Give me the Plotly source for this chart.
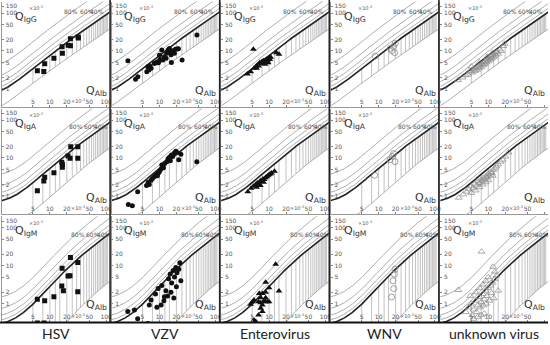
import numpy as np
import plotly.graph_objects as go

W, H = 550, 345

viruses = ["HSV", "VZV", "Enterovirus", "WNV", "unknown virus"]
ig_names = ["IgG", "IgA", "IgM"]

# Reiber hyperbolic reference constants (Q in units of 10^-3)
upper_a = [0.93, 0.77, 0.67]
upper_b2 = [6.0, 23.0, 120.0]
upper_c = [1.7, 3.1, 7.1]
lower_a = [0.33, 0.17, 0.04]
lower_b2 = [2.0, 74.0, 442.0]
lower_c = [0.3, 1.3, 0.82]
fractions = [0.2, 0.4, 0.6, 0.8]
hatch_x = [5, 7.5, 10, 12.5, 15, 20, 25, 30, 35, 40, 45, 50, 55, 60, 65, 70,
           75, 80, 85, 90, 95, 100, 105]

x_ticks = [2, 5, 10, 20, 50, 100]
y_ticks = [1, 2, 5, 10, 20, 50, 100, 150]

# ---- data: Q_Alb / Q_Ig (x10^-3) ----
hsv_igg_alb = [6.0, 7.8, 8.1, 11.8, 16.5, 16.7, 21.1, 23.2, 23.2, 31.7, 32.1]
hsv_igg_q = [3.0, 2.9, 4.6, 6.4, 13.0, 8.7, 14.1, 13.8, 21.1, 23.3, 22.0]
hsv_iga_alb = [6.0, 7.8, 8.1, 11.8, 16.3, 16.7, 16.7, 21.0, 22.9, 23.5, 31.3, 31.3]
hsv_iga_q = [1.38, 2.48, 3.1, 4.1, 7.7, 6.7, 5.7, 11.3, 9.8, 19.9, 19.9, 9.8]
hsv_igm_alb = [6.0, 8.1, 11.8, 16.5, 16.3, 17.4, 21.0, 22.8, 23.2, 31.3, 31.3, 6.0, 7.9]
hsv_igm_q = [1.30, 1.20, 1.53, 8.5, 2.92, 2.20, 5.36, 5.4, 16.3, 12.2, 2.07, 0.31, 0.31]

vzv_igg_alb = [2.75, 3.76, 4.13, 5.96, 6.2, 6.5, 7.1, 6.7, 8.1, 8.7, 9.1, 9.6, 10.0, 10.3,
               10.0, 11.0, 12.2, 13.5, 14.2, 15.0, 15.4, 16.1, 16.3, 17.2, 18.4, 19.2,
               20.5, 21.7, 25.2, 46.3, 11.5, 13.1]
vzv_igg_q = [5.5, 1.79, 2.11, 2.86, 3.87, 3.16, 3.5, 4.1, 4.7, 4.9, 5.1, 4.9, 5.5, 6.0,
             7.7, 10.6, 7.1, 8.7, 10.6, 11.7, 9.2, 7.9, 5.0, 10.2, 8.7, 11.1,
             11.3, 11.5, 5.8, 26.4, 5.8, 6.4]
vzv_iga_alb = [2.8, 3.3, 4.1, 5.9, 6.3, 6.6, 7.1, 7.5, 8.1, 8.7, 9.2, 9.6, 10.0, 10.5,
               11.0, 11.8, 12.4, 13.5, 14.2, 15.0, 15.6, 16.3, 17.2, 18.4, 19.5, 20.5,
               22.0, 24.0, 46.0]
vzv_iga_q = [0.6, 0.55, 1.3, 1.9, 2.3, 2.0, 2.6, 2.9, 3.2, 3.6, 3.4, 4.0, 4.4, 5.0,
             6.5, 5.5, 7.2, 8.0, 9.5, 10.5, 8.5, 12.0, 11.0, 13.5, 15.0, 14.0,
             9.0, 12.5, 8.0]
vzv_igm_alb = [2.74, 3.6, 4.1, 6.2, 6.6, 7.1, 10.7, 12.2, 8.5, 9.5, 11.0, 13.0, 14.5,
               15.5, 16.5, 17.5, 18.5, 19.5, 20.5, 22.0, 24.0, 12.0, 14.0, 16.0, 18.0,
               20.0, 23.0, 9.0]
vzv_igm_q = [0.62, 0.68, 0.40, 0.30, 0.92, 1.25, 0.92, 1.53, 1.8, 2.5, 3.0, 2.2, 4.5,
             6.0, 3.5, 7.5, 5.0, 9.0, 6.5, 8.0, 4.0, 1.2, 1.6, 2.0, 1.4, 2.8, 12.0, 0.8]

ent_igg_alb = [5.27, 4.13, 4.73, 5.42, 5.8, 6.2, 6.5, 6.7, 6.8, 7.1, 7.4, 7.6, 7.9, 8.1,
               8.5, 8.7, 9.1, 9.3, 9.7, 10.0, 10.3, 10.7, 9.7, 8.5, 6.0, 13.5, 15.0]
ent_igg_q = [11.1, 2.48, 2.86, 3.5, 3.87, 4.28, 4.03, 4.55, 4.9, 4.7, 5.2, 4.9, 5.5, 5.2,
             5.6, 5.8, 6.0, 5.6, 6.3, 6.4, 6.0, 6.8, 4.9, 4.46, 3.5, 9.0, 8.2]
ent_iga_alb = [4.2, 4.8, 5.3, 5.8, 6.2, 6.6, 7.0, 7.4, 7.8, 8.2, 8.6, 9.0, 9.5, 10.0,
               10.5, 11.0, 8.0, 7.0, 6.0, 12.5]
ent_iga_q = [1.3, 1.6, 1.8, 2.0, 2.2, 2.1, 2.5, 2.4, 2.8, 2.7, 3.0, 3.2, 3.4, 3.6,
             3.8, 4.0, 2.3, 1.9, 1.7, 4.5]
ent_igm_alb = [13.1, 15.0, 8.7, 10.0, 8.7, 7.6, 6.7, 5.4, 4.7, 5.07, 6.5, 7.1, 7.6, 8.1,
               8.7, 9.3, 10.0, 7.1, 7.6, 6.5, 5.8, 5.4, 8.7, 7.1]
ent_igm_q = [10.9, 2.16, 3.65, 2.64, 1.99, 1.84, 1.84, 1.25, 0.96, 1.13, 1.13, 1.06, 0.92,
             1.18, 1.13, 1.13, 1.13, 0.76, 0.62, 0.50, 0.34, 0.37, 1.44, 1.44]

wnv_igg_alb = [8.7, 16.1, 17.2, 18.4, 19.2, 19.7]
wnv_igg_q = [7.3, 11.7, 10.2, 13.0, 9.0, 15.9]
wnv_iga_alb = [8.5, 16.0, 17.5, 18.5, 19.5]
wnv_iga_q = [3.5, 9.0, 11.0, 13.0, 8.0]
wnv_igm_alb = [17.0, 18.0, 18.5, 19.0, 19.5]
wnv_igm_q = [1.5, 4.0, 2.5, 6.0, 8.0]

unk_igg_alb = [2.9, 3.5, 4.0, 4.4, 4.8, 5.2, 5.5, 5.8, 6.0, 6.3, 6.6, 6.9, 7.2, 7.5, 7.8,
               8.1, 8.4, 8.7, 9.0, 9.3, 9.6, 10.0, 10.4, 10.8, 11.2, 11.6, 12.0, 12.5,
               13.0, 13.6, 14.2, 15.0, 16.0, 17.0, 18.5, 19.5, 7.0, 9.5, 12.0, 5.0]
unk_igg_q = [1.7, 2.0, 2.3, 2.4, 2.9, 2.7, 3.3, 3.0, 3.6, 3.2, 3.9, 3.5, 4.2, 3.8, 4.6,
             4.2, 5.0, 4.5, 5.5, 5.0, 6.0, 5.4, 6.5, 5.9, 7.2, 6.3, 7.8, 6.9,
             8.5, 7.6, 9.5, 8.5, 11.0, 10.0, 13.5, 15.5, 5.0, 7.0, 9.0, 3.9]
unk_iga_alb = [3.0, 3.6, 4.1, 4.5, 5.0, 5.4, 5.8, 6.2, 6.6, 7.0, 7.4, 7.8, 8.2, 8.6, 9.0,
               9.5, 10.0, 10.5, 11.0, 11.6, 12.2, 13.0, 14.0, 15.0, 16.5, 18.0, 20.0,
               23.0, 6.0, 8.0, 10.0, 12.0, 5.0, 7.0, 9.0]
unk_iga_q = [0.9, 1.1, 1.3, 1.5, 1.8, 1.6, 2.1, 1.9, 2.4, 2.2, 2.7, 2.5, 3.0, 2.8, 3.3,
             3.1, 3.8, 3.5, 4.3, 4.0, 4.8, 5.3, 6.0, 6.8, 8.0, 9.0, 11.0,
             14.0, 1.4, 2.0, 2.6, 3.4, 1.2, 1.7, 2.3]
unk_igm_alb = [7.6, 2.94, 12.2, 13.1, 4.0, 4.5, 5.0, 5.5, 6.0, 6.5, 7.0, 7.5, 8.0, 8.5,
               9.0, 9.5, 10.0, 11.0, 12.0, 13.0, 14.0, 5.2, 6.2, 7.2, 8.2, 9.2, 10.5,
               11.5, 6.0, 7.0, 8.0, 9.0, 10.0, 5.5, 6.5, 7.5, 8.5, 12.5, 15.0, 4.8]
unk_igm_q = [23.4, 2.29, 9.4, 7.0, 0.6, 0.8, 1.0, 0.7, 1.2, 0.9, 1.5, 1.1, 1.8, 1.3,
             2.2, 1.6, 2.6, 3.0, 3.6, 4.4, 5.5, 0.5, 0.6, 0.8, 0.9, 1.0, 1.2,
             1.9, 2.0, 2.6, 3.2, 4.0, 5.0, 0.4, 0.45, 0.5, 0.55, 1.4, 2.2, 1.6]

data = {
    "HSV": [(hsv_igg_alb, hsv_igg_q), (hsv_iga_alb, hsv_iga_q), (hsv_igm_alb, hsv_igm_q)],
    "VZV": [(vzv_igg_alb, vzv_igg_q), (vzv_iga_alb, vzv_iga_q), (vzv_igm_alb, vzv_igm_q)],
    "Enterovirus": [(ent_igg_alb, ent_igg_q), (ent_iga_alb, ent_iga_q), (ent_igm_alb, ent_igm_q)],
    "WNV": [(wnv_igg_alb, wnv_igg_q), (wnv_iga_alb, wnv_iga_q), (wnv_igm_alb, wnv_igm_q)],
    "unknown virus": [(unk_igg_alb, unk_igg_q), (unk_iga_alb, unk_iga_q), (unk_igm_alb, unk_igm_q)],
}
marker_styles = {
    "HSV": dict(symbol="square", size=5, color="#111"),
    "VZV": dict(symbol="circle", size=5, color="#111"),
    "Enterovirus": dict(symbol="triangle-up", size=6, color="#111"),
    "WNV": dict(symbol="circle-open", size=6, color="#8a8a8a", line=dict(width=0.8)),
    "unknown virus": dict(symbol="triangle-up-open", size=6, color="#8a8a8a", line=dict(width=0.7)),
}

# ---- layout geometry (pixels) ----
col_left = [2, 112, 222, 332, 442]
col_w = 108
row_top = [1.6, 108.6, 216.3]
row_h = 105.6
x_range = [0.15, 2.061]
y_range = [-0.48, 2.3]
pct_y = [2.03, 1.84, 1.81]
pct_x = [[24, 45.8, 69.7], [29, 54.6, 82], [31.6, 58, 90]]

fig = go.Figure()
xgrid = np.geomspace(1.2, 130, 300)
ybottom = 10 ** y_range[0]

tick_font = dict(family="DejaVu Sans", size=6, color="#555")
grey = "#8c8c8c"

for r in range(3):
    qlim = upper_a[r] * np.sqrt(xgrid ** 2 + upper_b2[r]) - upper_c[r]
    qlow = lower_a[r] * np.sqrt(xgrid ** 2 + lower_b2[r]) - lower_c[r]
    qlow = np.where(qlow > 0, qlow, np.nan)
    hx, hy = [], []
    for xv in hatch_x:
        top = upper_a[r] * np.sqrt(xv ** 2 + upper_b2[r]) - upper_c[r]
        lo = lower_a[r] * np.sqrt(xv ** 2 + lower_b2[r]) - lower_c[r]
        lo = max(lo, ybottom * 0.9)
        hx += [xv, xv, None]
        hy += [lo, top, None]
    for c, v in enumerate(viruses):
        idx = r * 5 + c + 1
        xa = "x" if idx == 1 else f"x{idx}"
        ya = "y" if idx == 1 else f"y{idx}"
        for f in fractions:
            fig.add_trace(go.Scatter(x=xgrid, y=qlim / (1 - f), mode="lines",
                                     line=dict(color=grey, width=0.7),
                                     xaxis=xa, yaxis=ya, hoverinfo="skip"))
        fig.add_trace(go.Scatter(x=hx, y=hy, mode="lines",
                                 line=dict(color="#9a9a9a", width=0.6),
                                 xaxis=xa, yaxis=ya, hoverinfo="skip"))
        fig.add_trace(go.Scatter(x=xgrid, y=qlow, mode="lines",
                                 line=dict(color=grey, width=0.7),
                                 xaxis=xa, yaxis=ya, hoverinfo="skip"))
        fig.add_trace(go.Scatter(x=xgrid, y=qlim, mode="lines",
                                 line=dict(color="#222", width=1.6),
                                 xaxis=xa, yaxis=ya, hoverinfo="skip"))
        alb, q = data[v][r]
        fig.add_trace(go.Scatter(x=alb, y=q, mode="markers", marker=marker_styles[v],
                                 xaxis=xa, yaxis=ya))

        x0 = col_left[c] / W
        x1 = (col_left[c] + col_w) / W
        y1 = 1 - row_top[r] / H
        y0 = 1 - (row_top[r] + row_h) / H
        fig.layout[("xaxis" if idx == 1 else f"xaxis{idx}")] = dict(
            type="log", range=x_range, domain=[x0, x1], anchor=ya,
            tickvals=x_ticks, ticktext=[str(t) for t in x_ticks],
            ticks="inside", ticklen=2, tickcolor="#888", tickwidth=0.6,
            ticklabelposition="outside", ticklabelstandoff=-11, tickfont=tick_font,
            showline=True, linecolor="#999", linewidth=0.8,
            showgrid=False, zeroline=False)
        fig.layout[("yaxis" if idx == 1 else f"yaxis{idx}")] = dict(
            type="log", range=y_range, domain=[y0, y1], anchor=xa,
            tickvals=y_ticks, ticktext=[str(t) for t in y_ticks],
            ticks="inside", ticklen=2, tickcolor="#888", tickwidth=0.6,
            ticklabelposition="inside", tickfont=tick_font,
            showline=True, linecolor="#999", linewidth=0.8,
            showgrid=False, zeroline=False)

        # labels (log coordinates for annotations on log axes)
        fig.add_annotation(x=np.log10(2.2), y=np.log10(80), xref=xa, yref=ya,
                           text=f"Q<sub>{ig_names[r]}</sub>", showarrow=False,
                           xanchor="left", yanchor="middle",
                           font=dict(family="DejaVu Sans", size=11, color="#333"))
        fig.add_annotation(x=np.log10(4.0), y=np.log10(135), xref=xa, yref=ya,
                           text="×10<sup>-3</sup>", showarrow=False,
                           xanchor="left", yanchor="middle",
                           font=dict(family="DejaVu Sans", size=5, color="#555"))
        fig.add_annotation(x=np.log10(40), y=np.log10(0.9), xref=xa, yref=ya,
                           text="Q<sub>Alb</sub>", showarrow=False,
                           xanchor="left", yanchor="middle",
                           font=dict(family="DejaVu Sans", size=11, color="#333"))
        fig.add_annotation(x=np.log10(31.5), y=y_range[0], xref=xa, yref=ya,
                           text="×10<sup>-3</sup>", showarrow=False,
                           xanchor="center", yanchor="bottom", yshift=1,
                           font=dict(family="DejaVu Sans", size=5, color="#555"))
        for lab, px in zip(["80%", "60%", "40%"], pct_x[r]):
            fig.add_annotation(x=np.log10(px), y=pct_y[r], xref=xa, yref=ya,
                               text=lab, showarrow=False,
                               xanchor="center", yanchor="middle",
                               font=dict(family="DejaVu Sans", size=6, color="#555"))

# column names
for c, v in enumerate(viruses):
    fig.add_annotation(x=(col_left[c] + col_w / 2) / W, y=1 - 333 / H, xref="paper", yref="paper",
                       text=v, showarrow=False, xanchor="center", yanchor="middle",
                       font=dict(family="Lato", size=14, color="#222"))

shapes = []
for sx in [110.5, 220.5, 330.5, 440.5]:
    shapes.append(dict(type="line", xref="paper", yref="paper",
                       x0=sx / W, x1=sx / W, y0=1 - 322 / H, y1=1,
                       line=dict(color="#222", width=1.6)))
shapes.append(dict(type="line", xref="paper", yref="paper",
                   x0=0, x1=1, y0=1 - 322.5 / H, y1=1 - 322.5 / H,
                   line=dict(color="#111", width=2)))

fig.update_layout(width=W, height=H, margin=dict(l=0, r=0, t=0, b=0),
                  paper_bgcolor="white", plot_bgcolor="white",
                  showlegend=False, shapes=shapes)

fig.write_html("out.html", config={"displayModeBar": False},
               post_script="document.body.style.margin='0px';")
